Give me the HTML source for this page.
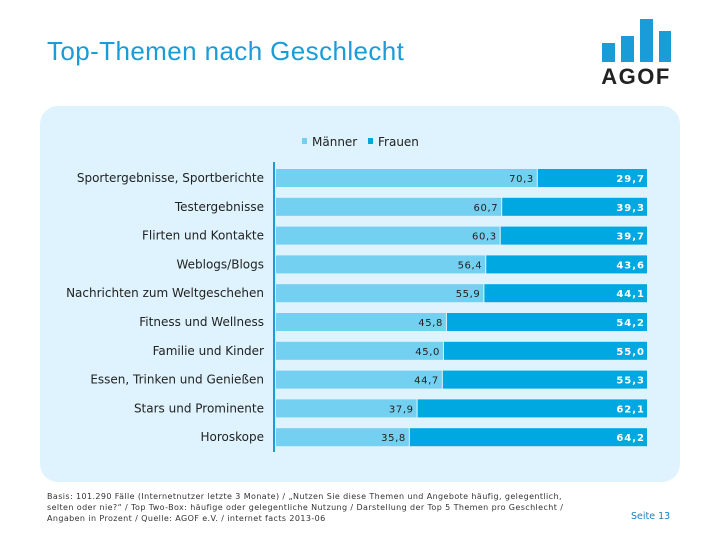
<!DOCTYPE html>
<html><head><meta charset="utf-8"><style>
body{margin:0;width:720px;height:540px;background:#fff;position:relative;overflow:hidden;font-family:"Liberation Sans","DejaVu Sans",sans-serif}
#title{position:absolute;left:47px;top:36px;font-size:26px;color:#1a9cd8;letter-spacing:0.4px}
#panel{position:absolute;left:40px;top:106px;width:640px;height:376px;background:#def3fd;border-radius:18px}
#foot{position:absolute;left:47px;top:491px;font-size:8px;color:#333;line-height:11px;width:538px;letter-spacing:0.4px;font-family:"DejaVu Sans",sans-serif}
#page{position:absolute;left:631px;top:511px;font-size:9.5px;color:#1a7fc0;font-family:"DejaVu Sans",sans-serif}
</style></head><body>
<div id="title">Top-Themen nach Geschlecht</div>
<svg style="position:absolute;left:0;top:0" width="720" height="100">
<rect x="602" y="43" width="13" height="19" fill="#1a9cd8"/>
<rect x="621" y="36" width="13" height="26" fill="#1a9cd8"/>
<rect x="640" y="19" width="13" height="43" fill="#1a9cd8"/>
<rect x="659" y="31" width="12" height="31" fill="#1a9cd8"/>
<text x="636" y="84" text-anchor="middle" font-size="22" font-weight="bold" fill="#222" letter-spacing="1.5" font-family="Liberation Sans,sans-serif">AGOF</text>
</svg>
<div id="panel"></div>
<svg id="chart" style="position:absolute;left:0;top:0" width="720" height="490" font-family="DejaVu Sans, sans-serif"></svg>
<div id="foot">Basis: 101.290 Fälle (Internetnutzer letzte 3 Monate) / „Nutzen Sie diese Themen und Angebote häufig, gelegentlich, selten oder nie?“ / Top Two-Box: häufige oder gelegentliche Nutzung / Darstellung der Top 5 Themen pro Geschlecht / Angaben in Prozent / Quelle: AGOF e.V. / internet facts 2013-06</div>
<div id="page">Seite 13</div>
<script>
const categories=["Sportergebnisse, Sportberichte","Testergebnisse","Flirten und Kontakte","Weblogs/Blogs","Nachrichten zum Weltgeschehen","Fitness und Wellness","Familie und Kinder","Essen, Trinken und Genießen","Stars und Prominente","Horoskope"];
const maenner=[70.3,60.7,60.3,56.4,55.9,45.8,45.0,44.7,37.9,35.8];
const frauen=[29.7,39.3,39.7,43.6,44.1,54.2,55.0,55.3,62.1,64.2];
const seriesNames=["Männer","Frauen"];
const svg=document.getElementById('chart');
const NS='http://www.w3.org/2000/svg';
const x0=276,x1=647,y0=169,step=28.8,bh=18;
const xs=v=>x0+(x1-x0)*v/100;
const yr=i=>y0+i*step;
const fmt=v=>v.toFixed(1).replace('.',',');
function mk(t,a,p){const e=document.createElementNS(NS,t);for(const k in a)e.setAttribute(k,a[k]);(p||svg).appendChild(e);return e;}
const ax=mk('line',{x1:274,x2:274,y1:162,y2:452,stroke:'#1a9cd8','stroke-width':2});


categories.forEach((c,i)=>{
  const y=yr(i);
  const t=mk('text',{x:264,y:y+13,'text-anchor':'end','font-size':12,fill:'#222'});t.textContent=c;
  
  
  const m=maenner[i],f=frauen[i];
  const b1=mk('rect',{x:x0,y:y,width:xs(m)-x0,height:bh,fill:'#74d0f1'});
  
  
  const b2=mk('rect',{x:xs(m)+1,y:y,width:xs(m+f)-xs(m)-1,height:bh,fill:'#00a8e1'});
  
  
  const l1=mk('text',{x:xs(m)-3,y:y+13,'text-anchor':'end','font-size':10,fill:'#222','letter-spacing':0.6});l1.textContent=fmt(m);
  
  
  const l2=mk('text',{x:xs(m+f)-2,y:y+13,'text-anchor':'end','font-size':10,'font-weight':'bold',fill:'#fff','letter-spacing':1});l2.textContent=fmt(f);
  
  
});
const lx=[302,368],lc=['#74d0f1','#00a8e1'];
seriesNames.forEach((n,i)=>{
  const s=mk('rect',{x:lx[i],y:138,width:5,height:6,fill:lc[i]});
  
  
  const t=mk('text',{x:lx[i]+10,y:146,'font-size':12,fill:'#222'});t.textContent=n;
  
  
});
</script>
</body></html>
